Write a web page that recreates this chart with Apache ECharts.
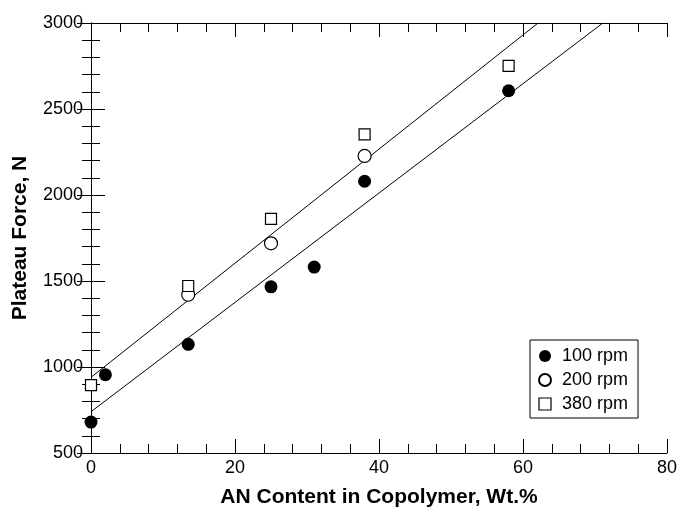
<!DOCTYPE html>
<html>
<head>
<meta charset="utf-8">
<script src="https://cdn.jsdelivr.net/npm/echarts@6/dist/echarts.min.js"></script>
<style>
  html, body { margin: 0; padding: 0; background: #fff; }
  #chart { width: 678px; height: 508px; }
</style>
</head>
<body>
<div id="chart"></div>
<script>
// AN content (wt.%) and plateau force (N) per screw speed
const rpm100 = [[0, 680], [2, 955], [13.5, 1132], [25, 1466], [31, 1581], [38, 2080], [58, 2606]]
const rpm200 = [[13.5, 1420], [25, 1719], [38, 2227]]
const rpm380 = [[0, 895], [13.5, 1471], [25, 1861], [38, 2353], [58, 2751]]

// fitted lines (end points)
const fitLow = [[0, 740], [71.1, 3000]]
const fitHigh = [[0, 940], [62.1, 3000]]

const seriesNames = ['100 rpm', '200 rpm', '380 rpm']

const font = '"Liberation Sans", Arial, sans-serif'
const black = '#000'

const chart = echarts.init(document.getElementById('chart'))

function axisBase(show) {
  return {
    axisLine: { show: true, lineStyle: { color: black, width: 1 } },
    axisTick: { show: true, inside: true, length: 14, lineStyle: { color: black, width: 1 } },
    minorTick: { show: true, splitNumber: 5, length: 9, lineStyle: { color: black, width: 1 } },
    splitLine: { show: false },
    axisLabel: { show: show, color: black, fontSize: 18, fontFamily: font }
  }
}

chart.setOption({
  animation: false,
  backgroundColor: '#fff',
  grid: { left: 91, right: 11, top: 23, bottom: 55, outerBoundsMode: 'none', containLabel: false },
  legend: {
    data: [
      { name: seriesNames[0], icon: 'circle' },
      { name: seriesNames[1], icon: 'circle' },
      { name: seriesNames[2], icon: 'rect', itemStyle: { borderWidth: 1.2 } }
    ],
    orient: 'vertical',
    left: 530,
    top: 340,
    width: 80,
    padding: [7, 10, 5, 8],
    itemWidth: 12,
    itemHeight: 12,
    itemGap: 6,
    backgroundColor: '#fff',
    borderColor: black,
    borderWidth: 1,
    textStyle: { color: black, fontSize: 18, fontFamily: font, padding: [0, 0, 0, 6] }
  },
  xAxis: [
    Object.assign(axisBase(true), {
      type: 'value', min: 0, max: 80, interval: 20, position: 'bottom',
      axisLabel: { color: black, fontSize: 18, fontFamily: font, margin: 6 },
      name: 'AN Content in Copolymer, Wt.%',
      nameLocation: 'middle',
      nameGap: 34,
      nameTextStyle: { color: black, fontSize: 21, fontWeight: 'bold', fontFamily: font }
    }),
    Object.assign(axisBase(false), {
      type: 'value', min: 0, max: 80, interval: 20, position: 'top'
    })
  ],
  yAxis: [
    Object.assign(axisBase(true), {
      type: 'value', min: 500, max: 3000, interval: 500, position: 'left',
      axisLabel: { color: black, fontSize: 18, fontFamily: font, margin: 8, formatter: v => String(v) },
      name: 'Plateau Force, N',
      nameLocation: 'middle',
      nameGap: 60,
      nameTextStyle: { color: black, fontSize: 21, fontWeight: 'bold', fontFamily: font }
    }),
    Object.assign(axisBase(false), {
      type: 'value', min: 500, max: 3000, interval: 500, position: 'right'
    })
  ],
  series: [
    {
      type: 'line', data: fitLow, symbol: 'none', z: 1,
      lineStyle: { color: black, width: 1 }
    },
    {
      type: 'line', data: fitHigh, symbol: 'none', z: 1,
      lineStyle: { color: black, width: 1 }
    },
    {
      name: seriesNames[0], type: 'scatter', data: rpm100, symbol: 'circle', symbolSize: 13, z: 3,
      itemStyle: { color: black, opacity: 1 }
    },
    {
      name: seriesNames[1], type: 'scatter', data: rpm200, symbol: 'circle', symbolSize: 13, z: 4,
      itemStyle: { color: '#fff', borderColor: black, borderWidth: 1.2, opacity: 1 }
    },
    {
      name: seriesNames[2], type: 'scatter', data: rpm380, symbol: 'rect', symbolSize: 11, z: 5,
      itemStyle: { color: '#fff', borderColor: black, borderWidth: 1.2, opacity: 1 }
    }
  ]
})
</script>
</body>
</html>
